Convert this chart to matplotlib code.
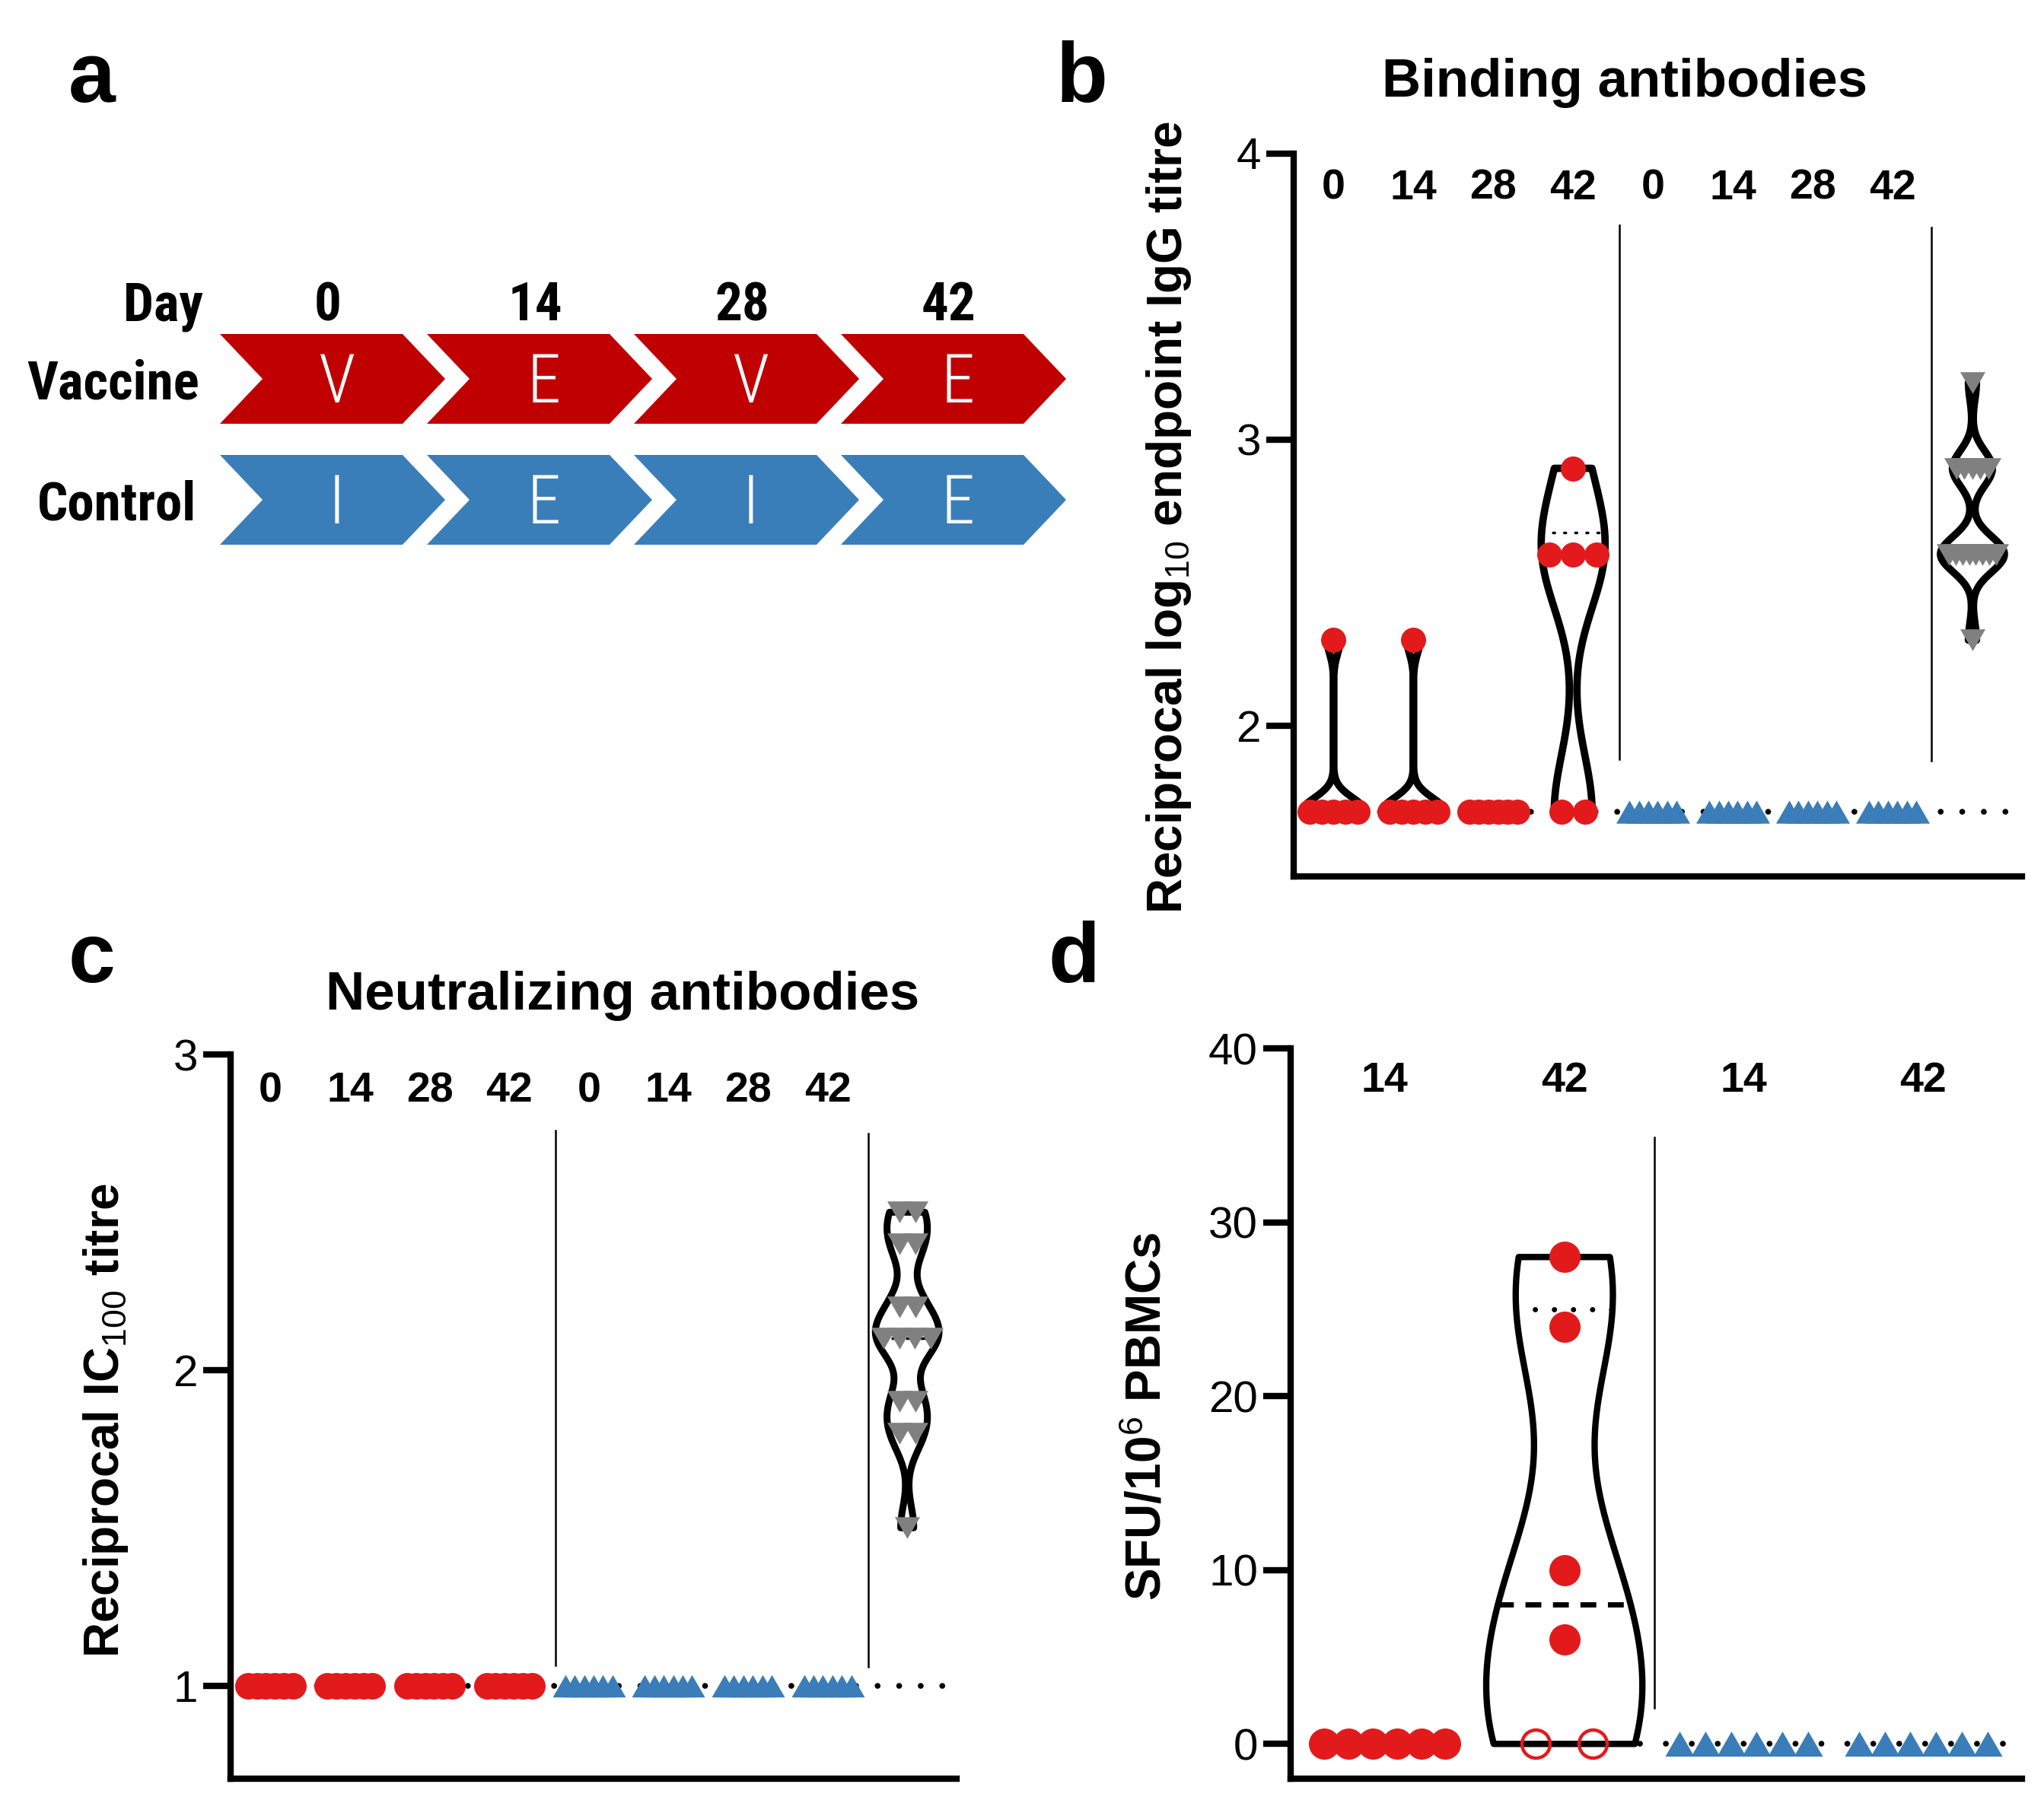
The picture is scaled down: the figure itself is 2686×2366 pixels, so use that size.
import numpy as np
import matplotlib
matplotlib.use('Agg')
import matplotlib.pyplot as plt
from matplotlib.patches import Polygon
from matplotlib.path import Path
from matplotlib import font_manager as fm

# ---------------- data ----------------
days = ['0', '14', '28', '42']
vaccine_regimen = ['V', 'E', 'V', 'E']
control_regimen = ['I', 'E', 'I', 'E']
regimen_rows = ['Vaccine', 'Control']

# b: binding antibodies (reciprocal log10 endpoint IgG titre)
bind_vac_d0 = [2.3, 1.7, 1.7, 1.7, 1.7, 1.7]
bind_vac_d14 = [2.3, 1.7, 1.7, 1.7, 1.7, 1.7]
bind_vac_d28 = [1.7, 1.7, 1.7, 1.7, 1.7, 1.7]
bind_vac_d42 = [2.9, 2.6, 2.6, 2.6, 1.7, 1.7]
bind_ctl_d0 = [1.7, 1.7, 1.7, 1.7, 1.7, 1.7]
bind_ctl_d14 = [1.7, 1.7, 1.7, 1.7, 1.7, 1.7]
bind_ctl_d28 = [1.7, 1.7, 1.7, 1.7, 1.7, 1.7]
bind_ctl_d42 = [1.7, 1.7, 1.7, 1.7, 1.7, 1.7]
bind_pos = [3.2, 2.9, 2.9, 2.9, 2.9, 2.9, 2.6, 2.6, 2.6, 2.6, 2.6, 2.6, 2.6, 2.6, 2.3]
bind_lod = 1.7
bind_yticks = [2, 3, 4]

# c: neutralizing antibodies (reciprocal IC100 titre)
neut_vac_d0 = [1.0, 1.0, 1.0, 1.0, 1.0, 1.0]
neut_vac_d14 = [1.0, 1.0, 1.0, 1.0, 1.0, 1.0]
neut_vac_d28 = [1.0, 1.0, 1.0, 1.0, 1.0, 1.0]
neut_vac_d42 = [1.0, 1.0, 1.0, 1.0, 1.0, 1.0]
neut_ctl_d0 = [1.0, 1.0, 1.0, 1.0, 1.0, 1.0]
neut_ctl_d14 = [1.0, 1.0, 1.0, 1.0, 1.0, 1.0]
neut_ctl_d28 = [1.0, 1.0, 1.0, 1.0, 1.0, 1.0]
neut_ctl_d42 = [1.0, 1.0, 1.0, 1.0, 1.0, 1.0]
neut_pos = [2.5, 2.5, 2.4, 2.4, 2.2, 2.2, 2.1, 2.1, 2.1, 2.1, 1.9, 1.9, 1.8, 1.8, 1.5]
neut_lod = 1.0
neut_yticks = [1, 2, 3]

# d: ELISpot (SFU/10^6 PBMCs)
elispot_days = ['14', '42']
sfu_vac_d14 = [0, 0, 0, 0, 0, 0]
sfu_vac_d42 = [28, 24, 10, 6, 0, 0]
sfu_vac_d42_open = [False, False, False, False, True, True]
sfu_ctl_d14 = [0, 0, 0, 0, 0, 0]
sfu_ctl_d42 = [0, 0, 0, 0, 0, 0]
sfu_lod = 0
sfu_yticks = [0, 10, 20, 30, 40]

# ---------------- style ----------------
W, H, DPI = 2686, 2366, 100
RED = '#E31A1C'
BLUE = '#3A7DB8'
GRAY = '#808080'
CHEV_RED = '#C00000'
CHEV_BLUE = '#3A7EB9'

plt.rcParams['font.family'] = ['Liberation Sans', 'DejaVu Sans']
plt.rcParams['mathtext.fontset'] = 'custom'
plt.rcParams['mathtext.rm'] = 'Liberation Sans'
plt.rcParams['mathtext.bf'] = 'Liberation Sans:bold'
plt.rcParams['mathtext.it'] = 'Liberation Sans:italic'


def has_font(name):
    try:
        fm.findfont(fm.FontProperties(family=name), fallback_to_default=False)
        return True
    except Exception:
        return False


# fonts for the schematic (narrow bold labels, thin white letters)
if has_font('Liberation Sans Narrow'):
    lab_font = dict(family=['Liberation Sans Narrow'], fontsize=50, fontweight='bold')
elif has_font('Roboto Condensed'):
    lab_font = dict(family=['Roboto Condensed'], fontsize=51, fontweight='bold')
else:
    lab_font = dict(fontsize=43, fontweight='bold')

if has_font('Roboto Condensed'):
    let_font = dict(family=['Roboto Condensed'], fontsize=64, fontweight='light')
elif has_font('Liberation Sans Narrow'):
    let_font = dict(family=['Liberation Sans Narrow'], fontsize=62, fontweight='normal')
elif has_font('Open Sans'):
    let_font = dict(family=['Open Sans'], fontsize=58, fontweight='light')
else:
    let_font = dict(fontsize=60)

TRI_UP = Path([(-1, -0.866), (1, -0.866), (0, 0.866), (-1, -0.866)],
              [Path.MOVETO, Path.LINETO, Path.LINETO, Path.CLOSEPOLY])
TRI_DOWN = Path([(-1, 0.866), (1, 0.866), (0, -0.866), (-1, 0.866)],
                [Path.MOVETO, Path.LINETO, Path.LINETO, Path.CLOSEPOLY])

fig = plt.figure(figsize=(W / DPI, H / DPI), dpi=DPI)


def rect(left, right, top, bottom):
    return [left / W, 1 - bottom / H, (right - left) / W, (bottom - top) / H]


def ftext(x, y, s, **kw):
    fig.text(x / W, 1 - y / H, s, **kw)


def unit_px(ax):
    b = ax.get_position()
    xl = ax.get_xlim()
    return b.width * W / (xl[1] - xl[0])


def row_offsets(vals, d_px, cap_px, wmax_px):
    vals = np.asarray(vals, float)
    off = np.zeros(len(vals))
    for v in np.unique(vals):
        idx = np.where(np.isclose(vals, v))[0]
        n = len(idx)
        if n > 1:
            s = min(cap_px, (wmax_px - d_px) / (n - 1))
            off[idx] = (np.arange(n) - (n - 1) / 2) * s
    return off


def draw_points(ax, pos, vals, marker, color, d_px, cap_px, wmax_px, open_flags=None):
    vals = np.asarray(vals, float)
    xs = pos + row_offsets(vals, d_px, cap_px, wmax_px) / unit_px(ax)
    ms = d_px * 72 / DPI
    of = np.zeros(len(vals), bool) if open_flags is None else np.asarray(open_flags, bool)
    if (~of).any():
        ax.plot(xs[~of], vals[~of], ls='none', marker=marker, ms=ms, mfc=color,
                mec='none', zorder=5, clip_on=False)
    if of.any():
        ax.plot(xs[of], vals[of], ls='none', marker=marker, ms=ms * 0.9, mfc='none',
                mec=color, mew=3.2, zorder=5, clip_on=False)


def draw_violin(ax, vals, pos, width, bw, lw, med_style=None, q_style=None):
    parts = ax.violinplot([vals], positions=[pos], widths=width, showmeans=False,
                          showmedians=False, showextrema=False, points=600, bw_method=bw)
    body = parts['bodies'][0]
    body.set_facecolor('none')
    body.set_edgecolor('black')
    body.set_linewidth(lw)
    body.set_alpha(1)
    body.set_zorder(3)
    v = body.get_paths()[0].vertices
    r = v[v[:, 0] > pos + 1e-9]
    order = np.argsort(r[:, 1])
    ry, rx = r[order, 1], r[order, 0]
    q1, med, q3 = np.percentile(vals, [25, 50, 75], method='weibull')
    for y, st in ((med, med_style), (q1, q_style), (q3, q_style)):
        if st is None:
            continue
        hw = np.interp(y, ry, rx) - pos
        ax.plot([pos - hw, pos + hw], [y, y], color='black', zorder=2.5, **st)


def style_axes(ax, xlim, ylim, yticks):
    ax.set_xlim(*xlim)
    ax.set_ylim(*ylim)
    ax.set_xticks([])
    ax.set_yticks(yticks)
    ax.set_yticklabels([str(t) for t in yticks])
    for s in ('top', 'right'):
        ax.spines[s].set_visible(False)
    for s in ('left', 'bottom'):
        ax.spines[s].set_linewidth(6)
        ax.spines[s].set_capstyle('projecting')
    ax.tick_params(axis='y', length=26, width=6, labelsize=42, pad=5)
    ax.patch.set_alpha(0)


def lod_line(ax, y, xlim, spacing):
    ax.plot(list(xlim), [y, y], color='black', lw=5.5, ls=(0, (0.01, spacing)),
            dash_capstyle='round', zorder=1.5)


# ---------------- panel a (schematic) ----------------
ax0 = fig.add_axes([0, 0, 1, 1])
ax0.set_xlim(0, W)
ax0.set_ylim(H, 0)
ax0.axis('off')

CH_X0, CH_P, CH_W, CH_D, CH_H = 289, 272, 240, 56, 118
row_tops = [439, 598]
row_colors = [CHEV_RED, CHEV_BLUE]
row_letters = [vaccine_regimen, control_regimen]

for r, (top, col, letters) in enumerate(zip(row_tops, row_colors, row_letters)):
    mid = top + CH_H / 2
    for k, letter in enumerate(letters):
        x0 = CH_X0 + k * CH_P
        pts = [(x0, top), (x0 + CH_W, top), (x0 + CH_W + CH_D, mid),
               (x0 + CH_W, top + CH_H), (x0, top + CH_H), (x0 + CH_D, mid)]
        ax0.add_patch(Polygon(pts, closed=True, facecolor=col, edgecolor='none'))
        ax0.text(x0 + (CH_W + CH_D) / 2 + 6, mid + 31, letter, color='white',
                 ha='center', va='baseline', **let_font)
    ax0.text([262, 258][r], mid + 26, regimen_rows[r], ha='right', va='baseline',
             **lab_font)

ax0.text(267, 421, 'Day', ha='right', va='baseline', **lab_font)
for k, dlab in enumerate(days):
    ax0.text(CH_X0 + k * CH_P + (CH_W + CH_D) / 2 - 6, 421, dlab, ha='center',
             va='baseline', **lab_font)

# panel letters and titles
for letter, (x, y) in zip('abcd', [(90, 134), (1388, 134), (90, 1291), (1378, 1291)]):
    ftext(x, y, letter, fontsize=80, fontweight='bold', ha='left', va='baseline')
ftext(2135, 127, 'Binding antibodies', fontsize=51, fontweight='bold', ha='center', va='baseline')
ftext(818, 1327, 'Neutralizing antibodies', fontsize=51, fontweight='bold', ha='center', va='baseline')

# ---------------- panel b ----------------
axb = fig.add_axes(rect(1700, 2657, 201.5, 1152))
XL8 = (-0.5, 8.62)
style_axes(axb, XL8, (1.475, 4.0), bind_yticks)
ftext(1536, 680, r'Reciprocal log$_{10}$ endpoint IgG titre', fontsize=46,
      fontweight='bold', rotation=90, ha='center', va='center')

lod_line(axb, bind_lod, XL8, 3.7)
for xs, y0, y1 in ((3.58, 1.885, 3.75), (7.49, 1.88, 3.74)):
    axb.plot([xs, xs], [y0, y1], color='black', lw=1.8, zorder=2)

bind_groups = [bind_vac_d0, bind_vac_d14, bind_vac_d28, bind_vac_d42,
               bind_ctl_d0, bind_ctl_d14, bind_ctl_d28, bind_ctl_d42, bind_pos]
bind_bw = {0: 0.2, 1: 0.2, 3: 0.39, 8: 0.28}
dot_thin = dict(lw=2.5, ls=(0, (0.6, 3.6)), dash_capstyle='round')
dash_thin = dict(lw=2.5, ls=(0, (3, 2.5)))
for i, g in enumerate(bind_groups):
    if i in bind_bw:
        draw_violin(axb, g, i, 0.8, bind_bw[i], 7, med_style=dash_thin, q_style=dot_thin)
    if i < 4:
        draw_points(axb, i, g, 'o', RED, 33, 31, 96)
    elif i < 8:
        draw_points(axb, i, g, TRI_UP, BLUE, 35, 31, 97)
    else:
        draw_points(axb, i, g, TRI_DOWN, GRAY, 33, 10.5, 95)
for i, lab in enumerate(days + days):
    axb.text(i, 3.84, lab, ha='center', va='baseline', fontsize=40, fontweight='bold')

# ---------------- panel c ----------------
axc = fig.add_axes(rect(303, 1257, 1386, 2338))
style_axes(axc, XL8, (0.705, 3.0), neut_yticks)
ftext(139, 1867, r'Reciprocal IC$_{100}$ titre', fontsize=46, fontweight='bold',
      rotation=90, ha='center', va='center')
lod_line(axc, neut_lod, XL8, 3.7)
for xs, y0, y1 in ((3.58, 1.063, 2.76), (7.51, 1.06, 2.75)):
    axc.plot([xs, xs], [y0, y1], color='black', lw=1.8, zorder=2)
neut_groups = [neut_vac_d0, neut_vac_d14, neut_vac_d28, neut_vac_d42,
               neut_ctl_d0, neut_ctl_d14, neut_ctl_d28, neut_ctl_d42, neut_pos]
for i, g in enumerate(neut_groups):
    if i == 8:
        draw_violin(axc, g, i, 0.8, 0.245, 6.5, med_style=dash_thin, q_style=dot_thin)
        draw_points(axc, i, g, TRI_DOWN, GRAY, 33, 21, 95)
    elif i < 4:
        draw_points(axc, i, g, 'o', RED, 35, 31, 94)
    else:
        draw_points(axc, i, g, TRI_UP, BLUE, 34, 31, 96)
for i, lab in enumerate(days + days):
    axc.text(i, 2.85, lab, ha='center', va='baseline', fontsize=40, fontweight='bold')

# ---------------- panel d ----------------
axd = fig.add_axes(rect(1696, 2657, 1378, 2338))
XL4 = (-0.525, 3.55)
style_axes(axd, XL4, (-2.0, 40), sfu_yticks)
ftext(1508, 1862, r'SFU/10$^{6}$ PBMCs', fontsize=46, fontweight='bold',
      rotation=90, ha='center', va='center')
lod_line(axd, sfu_lod, (1.42, XL4[1]), 4.45)
axd.plot([1.5, 1.5], [2.05, 34.9], color='black', lw=1.8, zorder=2)
draw_violin(axd, sfu_vac_d42, 1, 0.87, 0.457, 6,
            med_style=dict(lw=5, ls=(0, (3, 2.2))),
            q_style=dict(lw=5, ls=(0, (0.01, 3.6)), dash_capstyle='round'))
draw_points(axd, 0, sfu_vac_d14, 'o', RED, 41, 75, 200)
draw_points(axd, 1, sfu_vac_d42, 'o', RED, 41, 75, 200, open_flags=sfu_vac_d42_open)
draw_points(axd, 2, sfu_ctl_d14, TRI_UP, BLUE, 38, 75, 207)
draw_points(axd, 3, sfu_ctl_d42, TRI_UP, BLUE, 38, 75, 207)
for i, lab in enumerate(elispot_days + elispot_days):
    axd.text(i, 37.5, lab, ha='center', va='baseline', fontsize=40, fontweight='bold')

fig.savefig('out.png', dpi=DPI)
